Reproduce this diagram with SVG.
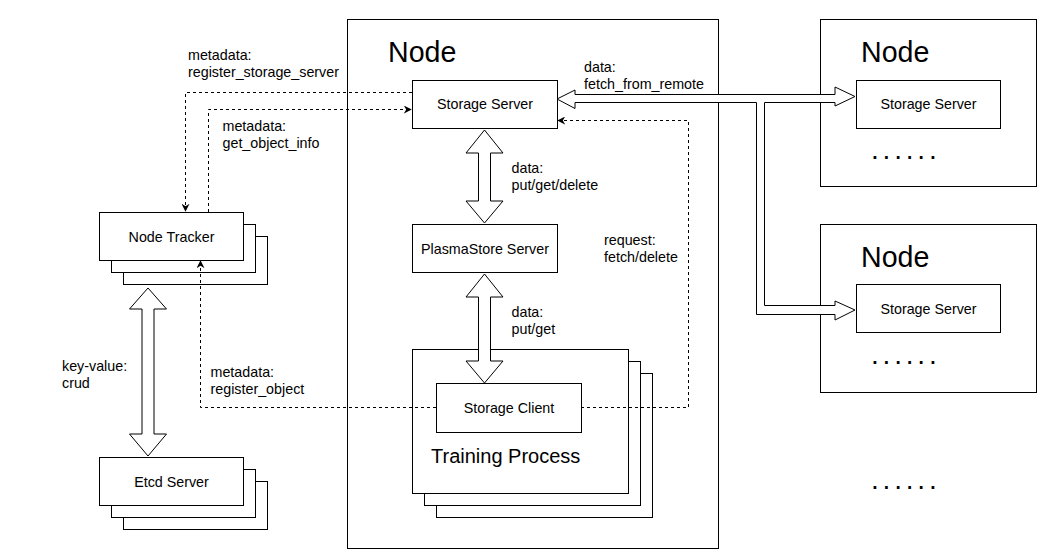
<svg xmlns="http://www.w3.org/2000/svg" width="1051" height="557" viewBox="0 0 1051 557">
<defs>
<style>
.box{fill:#fff;stroke:#000;stroke-width:1}
.t{font-family:"Liberation Sans",Arial,sans-serif;font-size:14.3px;fill:#000}
.c{text-anchor:middle}
.big{font-family:"Liberation Sans",Arial,sans-serif;font-size:28.6px;fill:#000}
.tp{font-family:"Liberation Sans",Arial,sans-serif;font-size:20px;fill:#000}
.dots{font-family:"Liberation Sans",Arial,sans-serif;font-size:28px;fill:#000;letter-spacing:3.8px}
.dash{fill:none;stroke:#000;stroke-width:1;stroke-dasharray:3,3}
.blk{fill:#fff;stroke:#000;stroke-width:1;stroke-linejoin:miter}
</style>
<marker id="ah" viewBox="0 0 10 10" refX="9" refY="5" markerWidth="8" markerHeight="8" markerUnits="userSpaceOnUse" orient="auto">
<path d="M0,0 L10,5 L0,10 L3,5 Z" fill="#000"/>
</marker>
</defs>
<rect width="1051" height="557" fill="#fff"/>

<g id="main-node">
<rect class="box" x="347.5" y="19.5" width="371" height="529"/>
<text class="big" x="388" y="62">Node</text>
</g>

<g id="remote-node-1">
<rect class="box" x="820.5" y="19.5" width="216" height="167"/>
<text class="big" x="861" y="62">Node</text>
<text class="dots" x="871" y="158.5">......</text>
</g>
<g id="remote-storage-server-1">
<rect class="box" x="856.5" y="80.5" width="144" height="48"/>
<text class="t c" x="928.5" y="109">Storage Server</text>
</g>

<g id="remote-node-2">
<rect class="box" x="820.5" y="224.5" width="216" height="168"/>
<text class="big" x="861" y="267">Node</text>
<text class="dots" x="871" y="363.5">......</text>
</g>
<g id="remote-storage-server-2">
<rect class="box" x="856.5" y="284.5" width="144" height="48"/>
<text class="t c" x="928.5" y="314">Storage Server</text>
</g>

<g id="more-nodes">
<text class="dots" x="871" y="488.5">......</text>
</g>

<g id="storage-server">
<rect class="box" x="412.5" y="80.5" width="145" height="48"/>
<text class="t c" x="485" y="109">Storage Server</text>
</g>

<g id="plasmastore-server">
<rect class="box" x="412.5" y="224.5" width="145" height="48"/>
<text class="t c" x="485" y="254">PlasmaStore Server</text>
</g>

<g id="training-process">
<rect class="box" x="436.5" y="373.5" width="216" height="144"/>
<rect class="box" x="424.5" y="361.5" width="216" height="144"/>
<rect class="box" x="412.5" y="349.5" width="216" height="144"/>
<text class="tp" x="431" y="463">Training Process</text>
</g>

<g id="node-tracker">
<rect class="box" x="123.5" y="236.5" width="144" height="48"/>
<rect class="box" x="111.5" y="224.5" width="144" height="48"/>
<rect class="box" x="99.5" y="212.5" width="144" height="48"/>
<text class="t c" x="171.5" y="242">Node Tracker</text>
</g>

<g id="etcd-server">
<rect class="box" x="123.5" y="481.5" width="144" height="48"/>
<rect class="box" x="111.5" y="469.5" width="144" height="48"/>
<rect class="box" x="99.5" y="457.5" width="144" height="48"/>
<text class="t c" x="171.5" y="487">Etcd Server</text>
</g>

<g id="connectors">
<path class="dash" d="M412,92.5 H185.5 V211" marker-end="url(#ah)"/>
<path class="dash" d="M208.5,212 V109.5 H411" marker-end="url(#ah)"/>
<path class="dash" d="M436,407.5 H200.5 V261" marker-end="url(#ah)"/>
<path class="dash" d="M581,407.5 H688.5 V120.5 H558" marker-end="url(#ah)"/>
<polygon class="blk" points="484.5,130 503,153 490.5,153 490.5,201 503,201 484.5,223 466,201 478.5,201 478.5,153 466,153"/>
<polygon class="blk" points="484.5,274 503,297 490.5,297 490.5,361 503,361 484.5,383 466,361 478.5,361 478.5,297 466,297"/>
<polygon class="blk" points="148,288 166.5,309 154,309 154,434 166.5,434 148,456 129.5,434 142,434 142,309 129.5,309"/>
<polygon class="blk" points="557,99 575,90 575,94.5 835,94.5 835,87 855,96.5 835,106 835,102.5 764.5,102.5 764.5,305.5 835,305.5 835,301 855,310 835,320 835,314.5 756.5,314.5 756.5,102.5 575,102.5 575,108.5"/>
</g>

<g id="labels">
<text class="t" x="188" y="60">metadata:</text>
<text class="t" x="188" y="77">register_storage_server</text>
<text class="t" x="222.5" y="131">metadata:</text>
<text class="t" x="222.5" y="148">get_object_info</text>
<text class="t" x="584" y="72">data:</text>
<text class="t" x="584" y="88.5">fetch_from_remote</text>
<text class="t" x="511.5" y="173">data:</text>
<text class="t" x="511.5" y="189.5">put/get/delete</text>
<text class="t" x="604" y="245">request:</text>
<text class="t" x="604" y="261.5">fetch/delete</text>
<text class="t" x="511.5" y="317">data:</text>
<text class="t" x="511.5" y="333.5">put/get</text>
<text class="t" x="62" y="371">key-value:</text>
<text class="t" x="62" y="387.5">crud</text>
<text class="t" x="210.5" y="377">metadata:</text>
<text class="t" x="210.5" y="393.5">register_object</text>
</g>

<g id="storage-client">
<rect class="box" x="436.5" y="383.5" width="145" height="49"/>
<text class="t c" x="509" y="413">Storage Client</text>
</g>
</svg>
